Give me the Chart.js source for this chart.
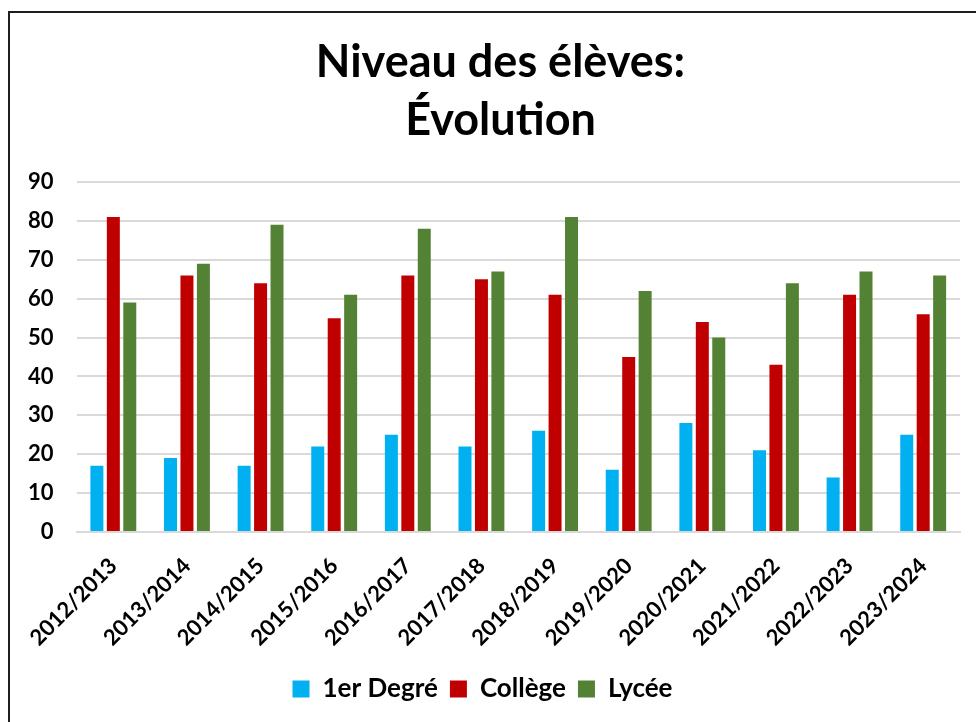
<!DOCTYPE html>
<html>
<head>
<meta charset="utf-8">
<script src="https://cdn.jsdelivr.net/npm/chart.js@4/dist/chart.umd.min.js"></script>
<style>
  html, body { margin: 0; padding: 0; background: #fff; overflow: hidden; }
  #wrap { position: relative; width: 976px; height: 722px; }
  #frame {
    position: absolute; left: 8px; top: 11px; width: 1200px; height: 900px;
    border-top: 2px solid #1e1e1e; border-left: 2px solid #1e1e1e;
    pointer-events: none;
  }
</style>
</head>
<body>
<div id="wrap">
  <canvas id="chart" width="976" height="722"></canvas>
  <div id="frame"></div>
</div>
<script>
// années scolaires
const labels = ["2012/2013", "2013/2014", "2014/2015", "2015/2016", "2016/2017", "2017/2018",
  "2018/2019", "2019/2020", "2020/2021", "2021/2022", "2022/2023", "2023/2024"];

// valeurs
const premierDegre = [17, 19, 17, 22, 25, 22, 26, 16, 28, 21, 14, 25];
const college = [81, 66, 64, 55, 66, 65, 61, 45, 54, 43, 61, 56];
const lycee = [59, 69, 79, 61, 78, 67, 81, 62, 50, 64, 67, 66];

const seriesNames = ["1er Degré", "Collège", "Lycée"];
const colors = ["#00B0F0", "#C00000", "#548235"];

const FONT = "Lato, 'Open Sans', sans-serif";

const datasets = [premierDegre, college, lycee].map((values, i) => ({
  label: seriesNames[i],
  data: values,
  backgroundColor: colors[i],
  borderWidth: 0,
  categoryPercentage: 0.67,
  barPercentage: 0.79,
}));

// le titre est centré sur le cadre, un peu à droite du canvas
const shiftTitle = {
  id: "shiftTitle",
  afterLayout(chart) {
    if (chart.titleBlock) chart.titleBlock.left += 36;
  },
};

new Chart(document.getElementById("chart"), {
  type: "bar",
  data: { labels: labels, datasets: datasets },
  plugins: [shiftTitle],
  options: {
    responsive: false,
    animation: false,
    layout: { padding: { left: 5, right: 16, top: 0, bottom: 10 } },
    plugins: {
      title: {
        display: true,
        text: ["Niveau des élèves:", "Évolution"],
        color: "#000",
        font: { family: FONT, size: 45, weight: "bold", lineHeight: 1.29 },
        padding: { top: 33, bottom: 33 },
      },
      legend: {
        position: "bottom",
        labels: {
          color: "#000",
          font: { family: FONT, size: 26, weight: "bold" },
          boxWidth: 17,
          boxHeight: 17,
          padding: 12,
        },
      },
      tooltip: { enabled: false },
    },
    scales: {
      x: {
        grid: { display: false },
        border: { display: true, color: "#d9d9d9", width: 2 },
        ticks: {
          color: "#000",
          font: { family: FONT, size: 22, weight: "bold" },
          minRotation: 45,
          maxRotation: 45,
          padding: 13,
        },
      },
      y: {
        min: 0,
        max: 90,
        grid: { color: "#d9d9d9", lineWidth: 2, drawTicks: false },
        border: { display: false },
        ticks: {
          stepSize: 10,
          color: "#000",
          font: { family: FONT, size: 22, weight: "bold" },
          padding: 23,
        },
      },
    },
  },
});
</script>
</body>
</html>
